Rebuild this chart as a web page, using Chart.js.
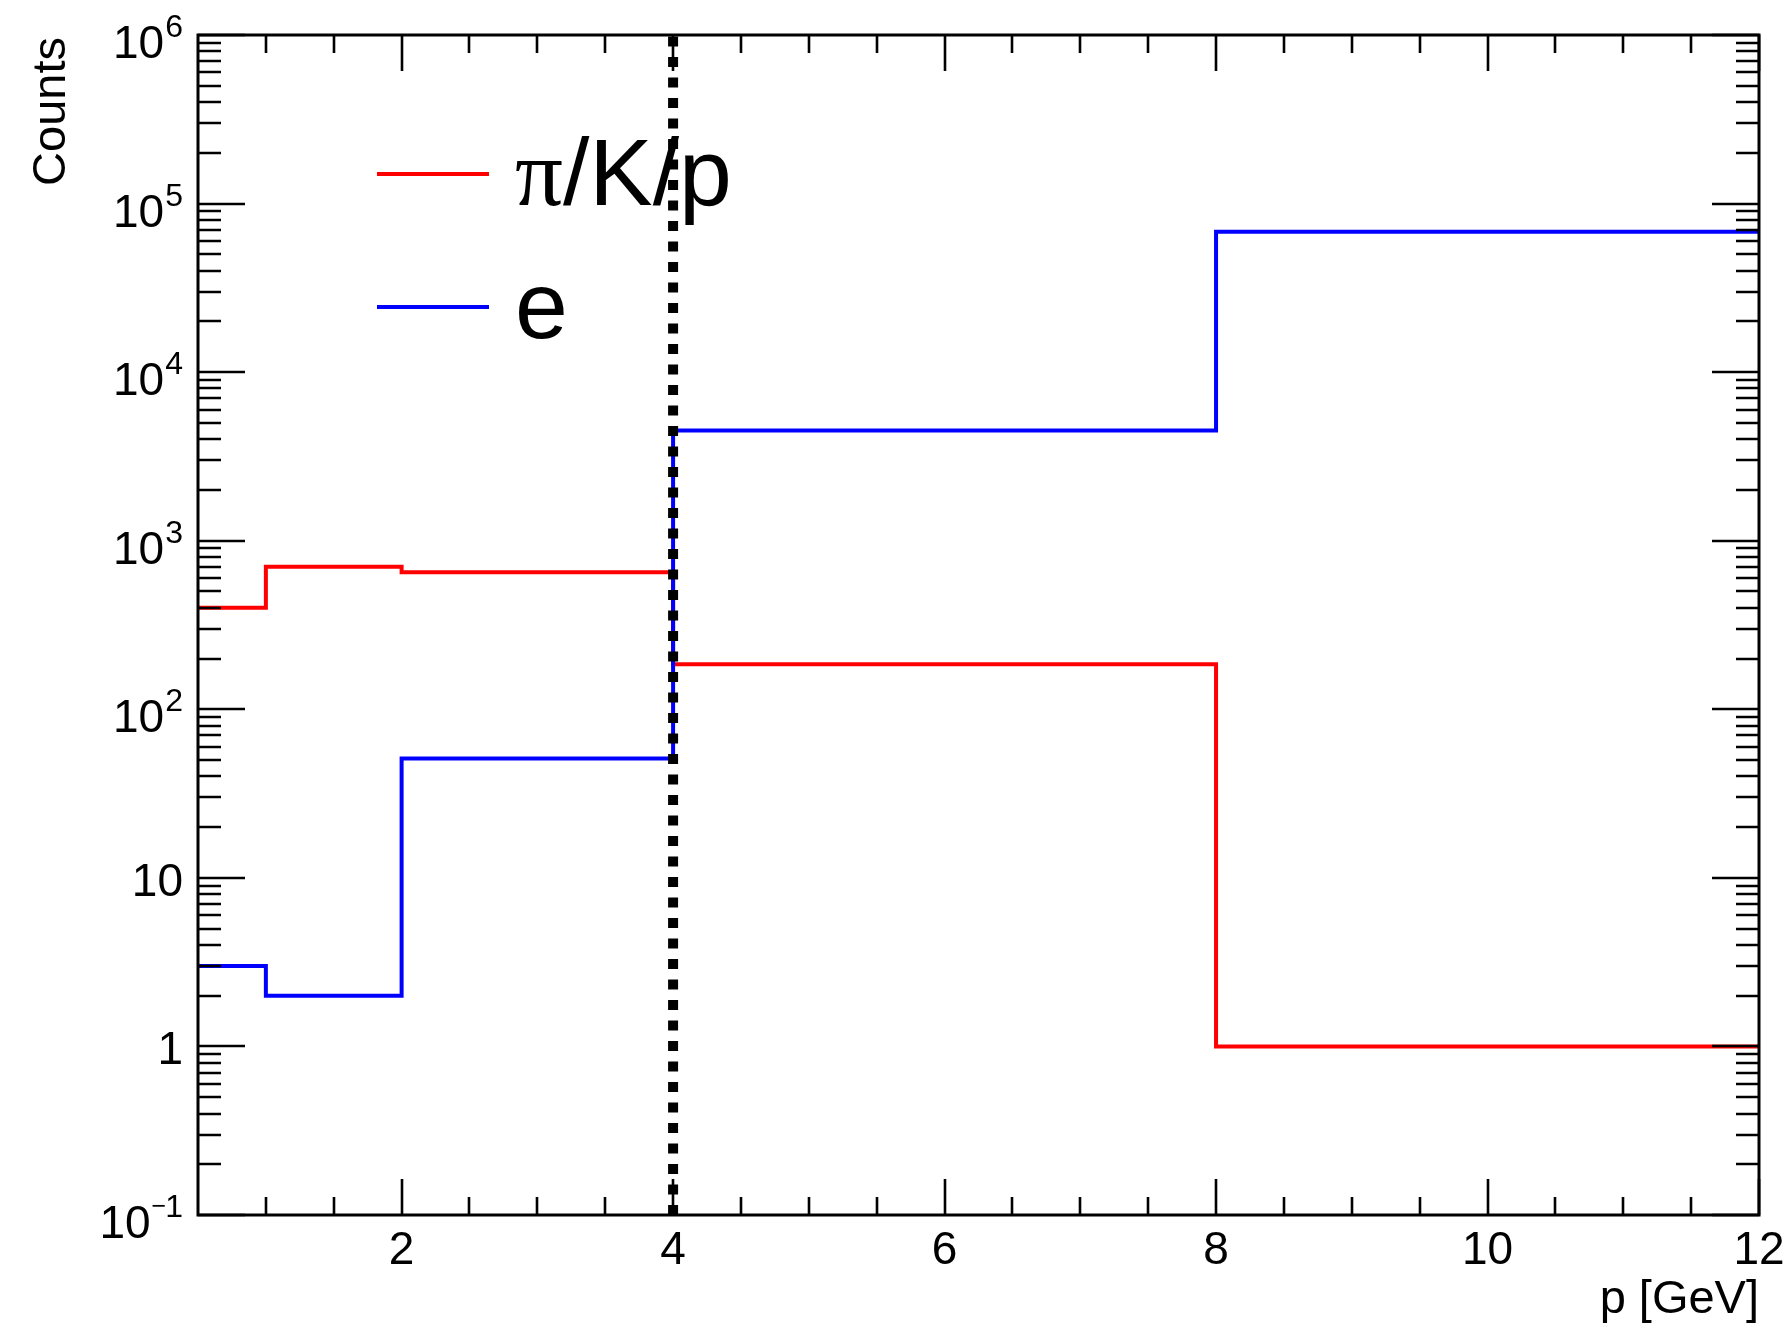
<!DOCTYPE html>
<html>
<head>
<meta charset="utf-8">
<script src="https://cdn.jsdelivr.net/npm/chart.js@4/dist/chart.umd.min.js"></script>
<style>
  html, body { margin: 0; padding: 0; background: #ffffff; }
  #wrap { width: 1792px; height: 1329px; }
</style>
</head>
<body>
<div id="wrap"><canvas id="c" width="1792" height="1329"></canvas></div>
<script>
// ---- data ----
const binEdges = [0.5, 1, 2, 4, 8, 12];          // p [GeV] bin edges
const pionCounts = [400, 700, 650, 185, 1];       // pi/K/p
const electronCounts = [3, 2, 51, 4500, 68000];   // e
const cutMomentum = 4;                            // dotted line position
const xTickValues = [2, 4, 6, 8, 10, 12];
const xTickLabels = ['2', '4', '6', '8', '10', '12'];
const yTickExponents = [-1, 0, 1, 2, 3, 4, 5, 6];
const seriesLabels = ['π/K/p', 'e'];
const xTitle = 'p [GeV]';
const yTitle = 'Counts';

function stepPoints(edges, counts) {
  return edges.map((x, i) => ({ x: x, y: counts[Math.min(i, counts.length - 1)] }));
}

const SANS = '"Liberation Sans", Arial, Helvetica, sans-serif';
const SERIF = '"Liberation Serif", "Times New Roman", serif';

const rootAxesPlugin = {
  id: 'rootAxes',
  beforeDatasetsDraw(chart) {
    // legend (drawn below the data so the dotted line passes over it)
    const ctx = chart.ctx, a = chart.chartArea;
    const colors = ['#ff0000', '#0000ff'];
    const ys = [a.top + 139, a.top + 272];
    ctx.save();
    for (let i = 0; i < 2; i++) {
      ctx.strokeStyle = colors[i];
      ctx.lineWidth = 4;
      ctx.beginPath();
      ctx.moveTo(a.left + 179, ys[i]);
      ctx.lineTo(a.left + 291, ys[i]);
      ctx.stroke();
      ctx.fillStyle = '#000';
      ctx.textBaseline = 'alphabetic';
      ctx.textAlign = 'left';
      let x = a.left + 317;
      const base = ys[i] + 31;
      const lab = seriesLabels[i];
      if (lab.startsWith('π')) {
        ctx.font = '95px ' + SERIF;
        ctx.fillText('π', x, base);
        x += ctx.measureText('π').width;
        ctx.font = '95px ' + SANS;
        ctx.fillText(lab.slice(1), x, base);
      } else {
        ctx.font = '95px ' + SANS;
        ctx.fillText(lab, x, base);
      }
    }
    ctx.restore();
  },
  afterDatasetsDraw(chart) {
    const ctx = chart.ctx, a = chart.chartArea;
    const xs = chart.scales.x, ys = chart.scales.y;
    ctx.save();
    ctx.strokeStyle = '#000';
    ctx.fillStyle = '#000';
    // frame
    ctx.lineWidth = 3;
    ctx.strokeRect(a.left, a.top, a.right - a.left, a.bottom - a.top);
    ctx.lineWidth = 2.6;
    // x ticks (major every 2, minor every 0.5), bottom and top
    ctx.beginPath();
    for (let v = 1; v < 12.001; v += 0.5) {
      const px = Math.round(xs.getPixelForValue(v));
      const major = xTickValues.includes(v);
      const len = major ? 36 : 18;
      ctx.moveTo(px, a.bottom); ctx.lineTo(px, a.bottom - len);
      ctx.moveTo(px, a.top); ctx.lineTo(px, a.top + len);
    }
    // y ticks (major at decades, minor 2..9), left and right
    for (let e = yTickExponents[0]; e <= yTickExponents[yTickExponents.length - 1]; e++) {
      for (let m = 1; m <= 9; m++) {
        const val = m * Math.pow(10, e);
        if (val > 1e6 * 1.0001) continue;
        const py = Math.round(ys.getPixelForValue(val));
        const len = m === 1 ? 47 : 23;
        ctx.moveTo(a.left, py); ctx.lineTo(a.left + len, py);
        ctx.moveTo(a.right, py); ctx.lineTo(a.right - len, py);
      }
    }
    ctx.stroke();

    // x tick labels
    ctx.font = '46px ' + SANS;
    ctx.textAlign = 'center';
    ctx.textBaseline = 'alphabetic';
    xTickValues.forEach((v, i) => {
      ctx.fillText(xTickLabels[i], xs.getPixelForValue(v), a.bottom + 49);
    });

    // y tick labels with superscripts
    const rightEdge = a.left - 15;
    yTickExponents.forEach(e => {
      const py = ys.getPixelForValue(Math.pow(10, e));
      ctx.textAlign = 'right';
      if (e === 0 || e === 1) {
        ctx.font = '46px ' + SANS;
        ctx.fillText(e === 0 ? '1' : '10', rightEdge, py + 18);
      } else {
        const digits = String(Math.abs(e));
        ctx.font = '32px ' + SANS;
        let w = ctx.measureText(digits).width;
        ctx.fillText(digits, rightEdge, py + 2);
        if (e < 0) {
          ctx.font = '25px ' + SANS;
          const mw = ctx.measureText('\u2212').width;
          ctx.fillText('\u2212', rightEdge - w + 1, py - 1);
          w += mw - 1;
        }
        ctx.font = '46px ' + SANS;
        ctx.fillText('10', rightEdge - w - 1, py + 23);
      }
    });

    // axis titles
    ctx.font = '47px ' + SANS;
    ctx.textAlign = 'right';
    ctx.fillText(xTitle, a.right, a.bottom + 98);
    ctx.save();
    ctx.translate(65, a.top + 2);
    ctx.rotate(-Math.PI / 2);
    ctx.textAlign = 'right';
    ctx.fillText(yTitle, 0, 0);
    ctx.restore();
    ctx.restore();
  }
};

new Chart(document.getElementById('c'), {
  type: 'line',
  data: {
    datasets: [
      {
        label: 'cut',
        data: [{ x: cutMomentum, y: 0.1 }, { x: cutMomentum, y: 1e6 }],
        borderColor: '#000000',
        borderWidth: 10,
        borderDash: [10, 10.5],
        borderCapStyle: 'butt',
        pointRadius: 0,
        order: 0
      },
      {
        label: seriesLabels[1],
        data: stepPoints(binEdges, electronCounts),
        borderColor: '#0000ff',
        borderWidth: 4,
        stepped: true,
        pointRadius: 0,
        order: 1
      },
      {
        label: seriesLabels[0],
        data: stepPoints(binEdges, pionCounts),
        borderColor: '#ff0000',
        borderWidth: 4,
        stepped: true,
        pointRadius: 0,
        order: 2
      }
    ]
  },
  options: {
    responsive: false,
    devicePixelRatio: 1,
    animation: false,
    layout: { padding: { left: 198, right: 33, top: 35, bottom: 114 } },
    plugins: { legend: { display: false }, tooltip: { enabled: false } },
    scales: {
      x: { type: 'linear', min: 0.5, max: 12, display: false },
      y: { type: 'logarithmic', min: 0.1, max: 1e6, display: false }
    }
  },
  plugins: [rootAxesPlugin]
});
</script>
</body>
</html>
